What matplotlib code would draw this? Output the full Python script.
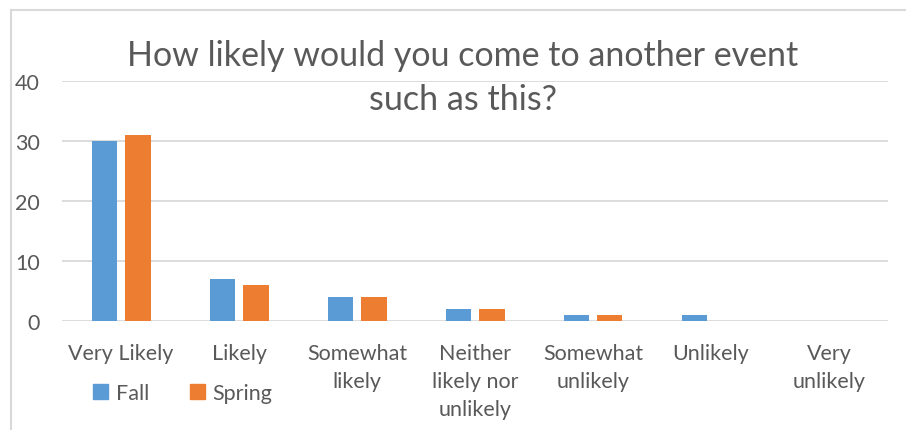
import matplotlib.pyplot as plt
from matplotlib.lines import Line2D
from matplotlib.patches import Patch
import numpy as np

# data
categories = ["Very Likely", "Likely", "Somewhat\nlikely", "Neither\nlikely nor\nunlikely",
              "Somewhat\nunlikely", "Unlikely", "Very\nunlikely"]
fall = [30, 7, 4, 2, 1, 1, 0]
spring = [31, 6, 4, 2, 1, 0, 0]
y_ticks = [0, 10, 20, 30, 40]

blue = "#5B9BD5"
orange = "#ED7D31"
text_gray = "#595959"
grid_gray = "#D9D9D9"

plt.rcParams['font.family'] = ['Lato', 'DejaVu Sans']

W, H = 906, 431
fig = plt.figure(figsize=(W / 100, H / 100), dpi=100)
ax = fig.add_axes([62 / W, (H - 322) / H, 826 / W, 240 / H])

x = np.arange(len(categories))
w = 0.22
ax.bar(x - 0.14, fall, w, color=blue, label="Fall", zorder=3)
ax.bar(x + 0.14, spring, w, color=orange, label="Spring", zorder=3)

ax.set_xlim(-0.5, len(categories) - 0.5)
ax.set_ylim(0, 40)
ax.set_yticks(y_ticks)
ax.yaxis.grid(True, color=grid_gray, linewidth=1.3, zorder=0)
for s in ax.spines.values():
    s.set_visible(False)
ax.tick_params(axis='both', length=0, colors=text_gray, labelsize=15.5)
ax.tick_params(axis='y', pad=16)
ax.tick_params(axis='x', pad=16)
ax.set_xticks(x)
ax.set_xticklabels(categories, linespacing=1.5, va='top')

fig.text(463 / W, 1 - 78 / H, "How likely would you come to another event\nsuch as this?",
         color=text_gray, fontsize=24.5, ha='center', va='center',
         linespacing=1.5, zorder=5)

handles = [Patch(color=blue, label="Fall"), Patch(color=orange, label="Spring")]
fig.legend(handles=handles, loc='center', bbox_to_anchor=(183 / W, 1 - 394 / H),
           ncol=2, frameon=False, fontsize=15.5, labelcolor=text_gray,
           handlelength=0.7, handleheight=0.7, handletextpad=0.35, columnspacing=1.9)

# chart border (cropped at right and bottom)
fig.add_artist(Line2D([11 / W, 1], [1 - 11 / H, 1 - 11 / H], color="#D9D9D9", lw=1.5))
fig.add_artist(Line2D([11 / W, 11 / W], [0, 1 - 11 / H], color="#D9D9D9", lw=1.5))

fig.savefig("out.png", dpi=100)
